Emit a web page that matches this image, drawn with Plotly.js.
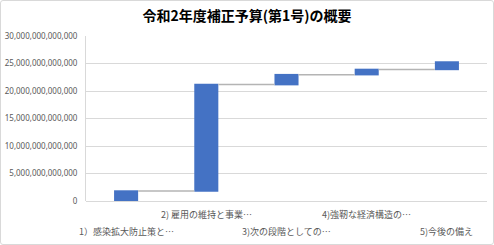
<!DOCTYPE html>
<html>
<head>
<meta charset="utf-8">
<script src="https://cdn.plot.ly/plotly-3.0.1.min.js"></script>
<style>
  html, body { margin: 0; padding: 0; background: #fff; }
  #wrap { position: relative; width: 494px; height: 245px; }
  #chart { width: 494px; height: 245px; }
  #frame { position: absolute; left: 0; top: 0; width: 494px; height: 245px; box-sizing: border-box;
           border: 1px solid #d9d9d9; border-radius: 3px; pointer-events: none; }
</style>
</head>
<body>
<div id="wrap"><div id="chart"></div><div id="frame"></div></div>
<script>
// Data
const titleText = "令和2年度補正予算(第1号)の概要";
const categories = ["1）感染拡大防止策と…", "2) 雇用の維持と事業…", "3)次の段階としての…", "4)強靭な経済構造の…", "5)今後の備え"];
const values = [1.81e12, 19.35e12, 1.81e12, 0.95e12, 1.35e12];
const yTickVals = [0, 5e12, 10e12, 15e12, 20e12, 25e12, 30e12];

const labelColor = "#595959";
const font = "'Noto Sans CJK JP', 'Noto Sans', sans-serif";
const numFont = "'Noto Sans', 'Liberation Sans', sans-serif";

const trace = {
  type: "waterfall",
  x: categories,
  y: values,
  measure: categories.map(() => "relative"),
  width: categories.map(() => 0.3),
  increasing: { marker: { color: "#4472C4" } },
  decreasing: { marker: { color: "#4472C4" } },
  totals: { marker: { color: "#4472C4" } },
  connector: { mode: "between", line: { color: "#b4b4b4", width: 1.5 } },
  hoverinfo: "none",
  textinfo: "none"
};

// Staggered category labels (two rows) as annotations
const annotations = categories.map((c, i) => ({
  x: c, xref: "x",
  y: (i % 2 === 0) ? -0.183 : -0.083, yref: "paper",
  yanchor: "middle", xanchor: "center",
  text: c, showarrow: false,
  font: { family: font, size: 9, color: labelColor }
}));

const layout = {
  width: 494, height: 245,
  margin: { l: 86, r: 7, t: 36, b: 44 },
  paper_bgcolor: "#ffffff", plot_bgcolor: "#ffffff",
  showlegend: false,
  title: {
    text: titleText,
    font: { family: font, size: 14, color: "#000000", weight: "bold" },
    x: 0.5, xanchor: "center", xref: "container",
    y: 1 - 16 / 245, yref: "container", yanchor: "middle"
  },
  xaxis: {
    type: "category",
    range: [-0.5, categories.length - 0.5],
    automargin: false,
    showticklabels: false,
    showgrid: false,
    showline: false,
    zeroline: false,
    ticks: ""
  },
  yaxis: {
    range: [0, 30e12],
    tickvals: yTickVals,
    tickformat: ",d",
    automargin: false,
    showgrid: true, gridcolor: "#d9d9d9", gridwidth: 1,
    zeroline: true, zerolinecolor: "#d9d9d9", zerolinewidth: 1,
    showline: true, linecolor: "#d9d9d9", linewidth: 1,
    ticks: "", ticklabelstandoff: 6,
    tickfont: { family: numFont, size: 8, color: labelColor }
  },
  annotations: annotations
};

Plotly.newPlot("chart", [trace], layout, { staticPlot: true, displayModeBar: false });
</script>
</body>
</html>
